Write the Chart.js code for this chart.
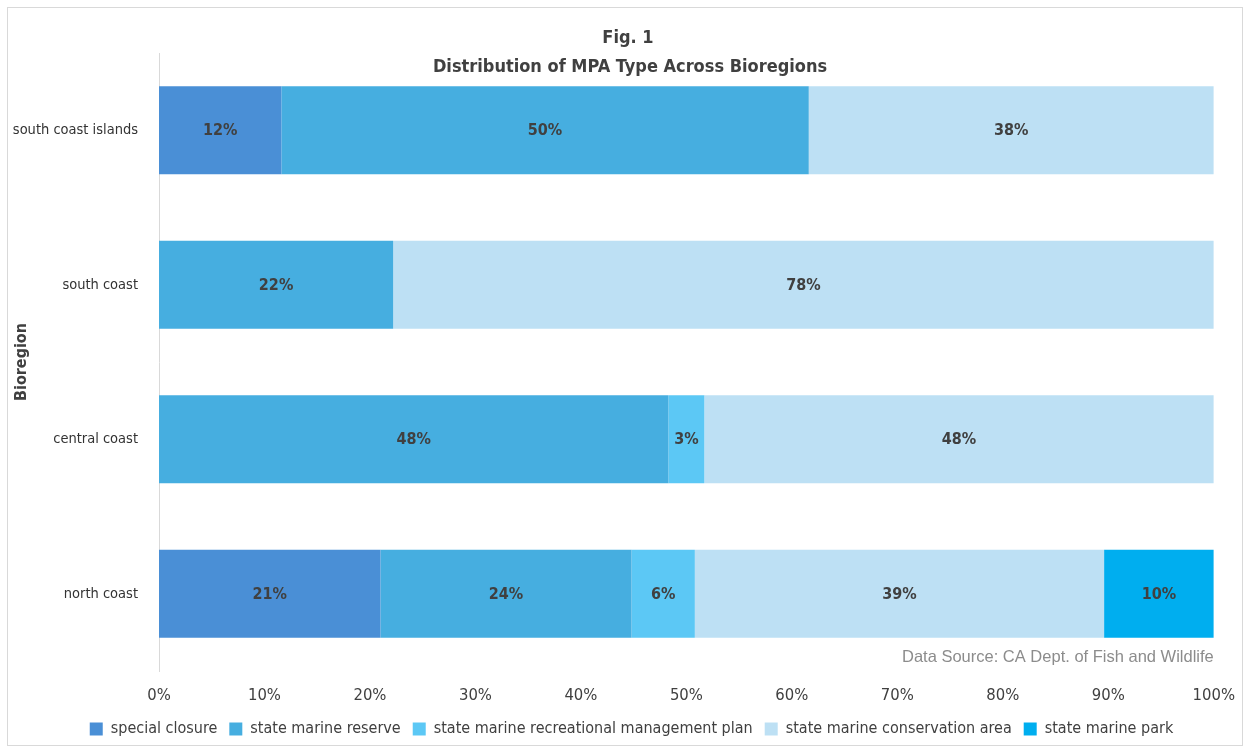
<!DOCTYPE html>
<html>
<head>
<meta charset="utf-8">
<script src="https://cdn.jsdelivr.net/npm/chart.js@4.4.1/dist/chart.umd.min.js"></script>
<style>
  html, body { margin: 0; padding: 0; background: #fff; }
  #frame { position: absolute; left: 7px; top: 7px; width: 1234px; height: 737px; border: 1px solid #d9d9d9; }
  #wrap { position: absolute; left: 0; top: 0; width: 1250px; height: 753px; }
</style>
</head>
<body>
<div id="frame"></div>
<div id="wrap"><canvas id="chart" width="1250" height="753"></canvas></div>
<script>
// Bioregions, top to bottom
const regions = ['south coast islands', 'south coast', 'central coast', 'north coast'];

// Share of MPAs by type (%), one value per region
const specialClosure = [11.6, 0, 0, 21.0];
const marineReserve = [50.0, 22.2, 48.3, 23.8];
const recManagement = [0, 0, 3.4, 6.0];
const conservationArea = [38.4, 77.8, 48.3, 38.8];
const marinePark = [0, 0, 0, 10.4];

const xTicks = [0, 10, 20, 30, 40, 50, 60, 70, 80, 90, 100];

const NARROW = "'Liberation Sans Narrow', 'DejaVu Sans Condensed', 'Arial Narrow', sans-serif";
const TEXT = '#404040';

// Percent labels inside each bar segment
const segmentLabels = {
    id: 'segmentLabels',
    afterDatasetsDraw(chart) {
        const ctx = chart.ctx;
        ctx.save();
        ctx.font = "bold 16px " + NARROW;
        ctx.fillStyle = TEXT;
        ctx.textAlign = 'center';
        ctx.textBaseline = 'middle';
        chart.data.datasets.forEach((ds, i) => {
            const meta = chart.getDatasetMeta(i);
            meta.data.forEach((bar, j) => {
                const v = ds.data[j];
                if (!v) return;
                const { x, base, y } = bar.getProps(['x', 'base', 'y'], true);
                ctx.fillText(Math.round(v) + '%', (x + base) / 2, y + 1);
            });
        });
        ctx.restore();
    }
};

// Title over the plot and source note
const extraText = {
    id: 'extraText',
    afterLayout(chart) {
        // legend sits a bit right of the canvas centre in the original
        chart.legend.left += 14;
        chart.legend.right += 14;
    },
    afterDraw(chart) {
        const ctx = chart.ctx;
        const area = chart.chartArea;
        ctx.save();
        ctx.fillStyle = TEXT;
        ctx.textAlign = 'center';
        ctx.textBaseline = 'middle';
        ctx.font = "bold 18px " + NARROW;
        ctx.fillText('Fig. 1', 628, 38);
        ctx.fillText('Distribution of MPA Type Across Bioregions', 630, 67);
        ctx.font = "16.5px 'Liberation Sans', Arial, sans-serif";
        ctx.fillStyle = '#8c8c8c';
        ctx.textAlign = 'right';
        ctx.fillText('Data Source: CA Dept. of Fish and Wildlife', area.right, 657);
        ctx.restore();
    }
};

const mkSet = (label, data, color) => ({
    label: label,
    data: data,
    backgroundColor: color,
    borderWidth: 0,
    categoryPercentage: 1,
    barPercentage: 0.57
});

new Chart(document.getElementById('chart'), {
    type: 'bar',
    data: {
        labels: regions,
        datasets: [
            mkSet('special closure', specialClosure, '#4a8fd6'),
            mkSet('state marine reserve', marineReserve, '#46aee0'),
            mkSet('state marine recreational management plan', recManagement, '#5cc8f5'),
            mkSet('state marine conservation area', conservationArea, '#bde0f4'),
            mkSet('state marine park', marinePark, '#00aeef')
        ]
    },
    options: {
        indexAxis: 'y',
        responsive: false,
        animation: false,
        layout: { padding: { top: 53, right: 15, bottom: 6, left: 0 } },
        scales: {
            x: {
                stacked: true,
                min: 0,
                max: 100,
                grid: { display: false, drawTicks: false },
                border: { display: false },
                afterBuildTicks(scale) { scale.ticks = xTicks.map(v => ({ value: v })); },
                ticks: {
                    padding: 15,
                    color: TEXT,
                    font: { family: NARROW, size: 16.5 },
                    callback: v => v + '%'
                },
                afterFit(scale) { scale.height = 38; }
            },
            y: {
                stacked: true,
                grid: { display: false, drawTicks: false },
                border: { display: true, color: '#d9d9d9', width: 1 },
                ticks: {
                    padding: 21,
                    color: '#333333',
                    font: { family: NARROW, size: 14.5 }
                },
                title: {
                    display: true,
                    text: 'Bioregion',
                    color: TEXT,
                    font: { family: NARROW, size: 16, weight: 'bold' },
                    padding: { top: 12, bottom: 0 }
                },
                afterFit(scale) { scale.width = 159; }
            }
        },
        plugins: {
            legend: {
                position: 'bottom',
                labels: {
                    color: TEXT,
                    boxWidth: 13,
                    boxHeight: 13,
                    padding: 12,
                    font: { family: NARROW, size: 16 }
                }
            },
            tooltip: { enabled: false }
        }
    },
    plugins: [segmentLabels, extraText]
});
</script>
</body>
</html>
